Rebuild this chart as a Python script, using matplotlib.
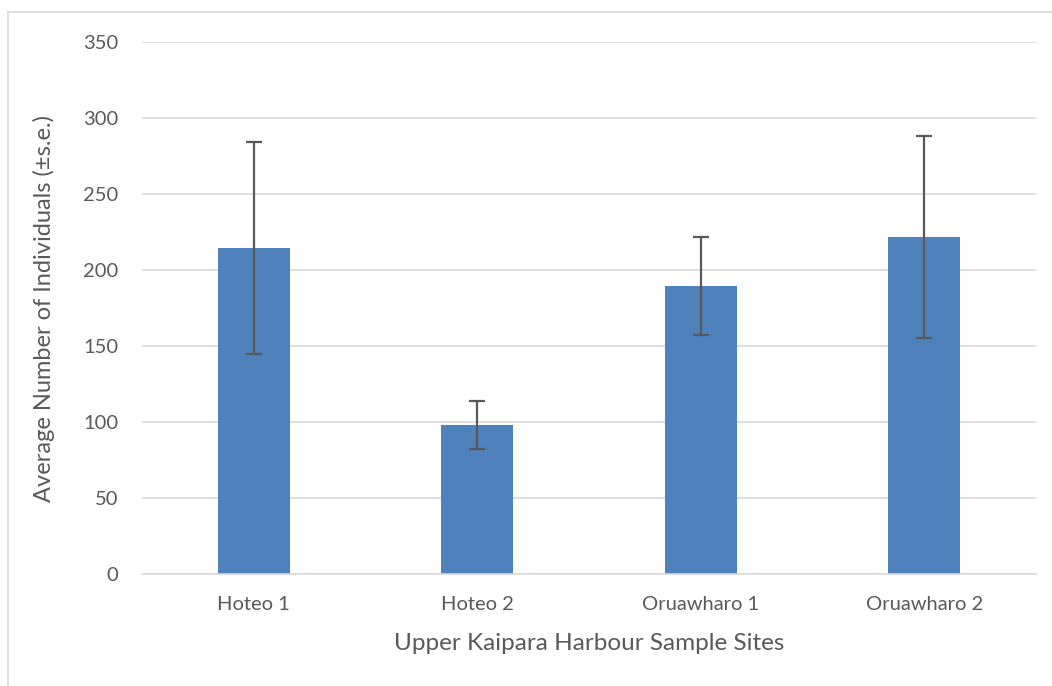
import matplotlib
matplotlib.use("Agg")
import matplotlib.pyplot as plt
from matplotlib.lines import Line2D

# site data
sites = ["Hoteo 1", "Hoteo 2", "Oruawharo 1", "Oruawharo 2"]
means = [214.5, 98, 189.5, 221.5]
errors = [70, 15.5, 32.5, 66.5]

plt.rcParams['font.family'] = ['Lato', 'DejaVu Sans']
grey = "#595959"

fig = plt.figure(figsize=(10.52, 6.86), dpi=100)
ax = fig.add_axes([142 / 1052, 1 - 574 / 686, 894 / 1052, 532 / 686])

x = range(len(sites))
ax.bar(x, means, width=0.32, color="#4f81bd", zorder=2)
ax.errorbar(x, means, yerr=errors, fmt="none", ecolor=grey, elinewidth=1.6,
            capsize=6, capthick=1.6, zorder=3)

ax.set_ylim(0, 350)
ax.set_xlim(-0.5, len(sites) - 0.5)
ax.set_yticks(range(0, 351, 50))
ax.set_xticks(list(x))
ax.set_xticklabels(sites)
ax.yaxis.grid(True, color="#d9d9d9", linewidth=1.2, zorder=0)
ax.set_axisbelow(True)
for s in ["top", "right", "left"]:
    ax.spines[s].set_visible(False)
ax.spines["bottom"].set_color("#d9d9d9")
ax.spines["bottom"].set_linewidth(1.2)
ax.tick_params(length=0, labelsize=14.5, colors=grey)
ax.tick_params(axis="x", pad=16)
ax.tick_params(axis="y", pad=17)

ax.set_xlabel("Upper Kaipara Harbour Sample Sites", fontsize=17.5, color=grey, labelpad=14)
ax.set_ylabel("Average Number of Individuals (\u00b1s.e.)", fontsize=17, color=grey, labelpad=20)

# chart-area border
fig.add_artist(Line2D([8 / 1052, 8 / 1052], [0, 1 - 12 / 686], transform=fig.transFigure,
                      color="#d9d9d9", linewidth=1.2))
fig.add_artist(Line2D([8 / 1052, 1], [1 - 12 / 686, 1 - 12 / 686], transform=fig.transFigure,
                      color="#d9d9d9", linewidth=1.2))

fig.savefig("out.png", dpi=100)
